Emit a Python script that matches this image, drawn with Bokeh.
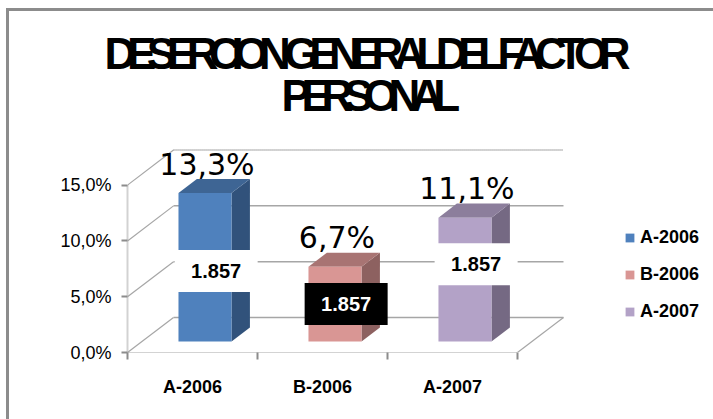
from bokeh.plotting import figure
from bokeh.layouts import column
from bokeh.embed import file_html
from bokeh.resources import INLINE
from bokeh.core.properties import value
from bokeh.models import LinearAxis, FixedTicker, Legend, LegendItem, Range1d, Label

categories = ["A-2006", "B-2006", "A-2007"]
percent = [13.3, 6.7, 11.1]
percent_labels = ["13,3%", "6,7%", "11,1%"]
box_texts = ["1.857", "1.857", "1.857"]
box_heights = [7.3, 4.35, 7.9]
y_ticks = [0, 5, 10, 15]
y_tick_labels = ["0,0%", "5,0%", "10,0%", "15,0%"]
title_lines = ["DESERCION GENERAL DEL FACTOR", "PERSONAL"]

front_colors = ["#4F81BD", "#D99694", "#B3A2C7"]
top_colors = ["#3E6594", "#A87473", "#8C7E9C"]
side_colors = ["#31527B", "#8D6160", "#756983"]
box_fill = ["white", "black", "white"]
box_ink = ["black", "white", "black"]

DX, DY = 0.354, 3.14        # wall depth, in x and y data units
NEAR, FAR = 0.314, 0.714    # bar depth, as a share of the wall depth
HALF = 0.204                # half a bar width
BAR_SHIFT = -0.015          # small sideways nudge of the bars
GREY = "#a6a6a6"
SANS = "Liberation Sans"

# title strip, with the squeezed lettering of the reference
head = figure(width=704, height=134, output_backend="svg", toolbar_location=None,
              x_axis_type=None, y_axis_type=None,
              x_range=Range1d(0, 1), y_range=Range1d(0, 1),
              min_border=0, outline_line_color=None, frame_align=False,
              styles={"letter-spacing": "-9.4px"})
head.grid.visible = False
for line, sx, sy in zip(title_lines, [95, 272], [68, 26]):
    head.add_layout(Label(x=sx, y=sy, x_units="screen", y_units="screen", text=line,
                          text_font=SANS, text_font_style="bold",
                          text_font_size="44px", text_color="black"))

p = figure(width=704, height=274, output_backend="svg", toolbar_location=None,
           x_axis_type=None, y_axis_type=None,
           x_range=Range1d(0, 4.508), y_range=Range1d(0, 18.55),
           min_border_left=118, min_border_right=0, min_border_top=0,
           min_border_bottom=67, outline_line_color=None, frame_align=False)
p.grid.visible = False

# real axes
yaxis = LinearAxis(ticker=FixedTicker(ticks=y_ticks), bounds=(0, 15),
                   major_label_overrides=dict(zip(y_ticks, y_tick_labels)))
yaxis.axis_line_color = GREY
yaxis.axis_line_dash = "1 1"
yaxis.axis_line_width = 2
yaxis.major_tick_line_color = "#8c8c8c"
yaxis.major_tick_line_width = 2
yaxis.major_tick_out = 6
yaxis.major_tick_in = 0
yaxis.minor_tick_out = 0
yaxis.major_label_text_font = SANS
yaxis.major_label_text_font_size = "18px"
yaxis.major_label_text_color = "black"
yaxis.major_label_standoff = 10
p.add_layout(yaxis, "left")

centres = [i + 0.5 for i in range(len(categories))]
edges = list(range(len(categories) + 1))
xaxis = LinearAxis(ticker=FixedTicker(ticks=centres, minor_ticks=edges),
                   bounds=(0, 3),
                   major_label_overrides=dict(zip(centres, categories)))
xaxis.axis_line_color = GREY
xaxis.axis_line_dash = "1 1"
xaxis.major_tick_out = 0
xaxis.major_tick_in = 0
xaxis.minor_tick_line_color = "#8c8c8c"
xaxis.minor_tick_line_width = 2
xaxis.minor_tick_out = 7
xaxis.minor_tick_in = 0
xaxis.major_label_text_font = SANS
xaxis.major_label_text_font_style = "bold"
xaxis.major_label_text_font_size = "18px"
xaxis.major_label_text_color = "black"
xaxis.major_label_standoff = 17
p.add_layout(xaxis, "below")

# walls
for t in y_ticks:
    p.line([0, DX], [t, t + DY], line_color=GREY, line_width=1.2)
    p.line([DX, 3 + DX], [t + DY, t + DY], line_color=GREY,
           line_width=1.5 if t < 15 else 2, line_dash="solid" if t < 15 else "1 1")
p.line([3, 3 + DX], [0, DY], line_color=GREY, line_width=1.2)

# bars
legend_items = []
for i, cat in enumerate(categories):
    v = percent[i]
    xl = centres[i] + NEAR * DX - HALF + BAR_SHIFT
    xr = centres[i] + NEAR * DX + HALF + BAR_SHIFT
    y0, ytop = NEAR * DY, v + NEAR * DY
    sx, sy = (FAR - NEAR) * DX, (FAR - NEAR) * DY
    p.patch([xr, xr + sx, xr + sx, xr], [y0, y0 + sy, ytop + sy, ytop],
            fill_color=side_colors[i], line_color=None)
    p.patch([xl, xr, xr + sx, xl + sx], [ytop, ytop, ytop + sy, ytop + sy],
            fill_color=top_colors[i], line_color=None)
    front = p.quad(left=xl, right=xr, bottom=y0, top=ytop,
                   fill_color=front_colors[i], line_color=None)
    legend_items.append(LegendItem(label=cat, renderers=[front]))

# label boxes and value labels
bar_mid = [c + (NEAR + FAR) / 2 * DX for c in centres]
p.rect(x=bar_mid, y=box_heights, width=83, height=42, width_units="screen",
       height_units="screen", fill_color=box_fill, line_color=None)
p.text(x=bar_mid, y=box_heights, text=box_texts, text_color=box_ink,
       text_font=value(SANS), text_font_style="bold", text_font_size="20px",
       text_align="center", text_baseline="middle")
p.text(x=[c + NEAR * DX for c in centres],
       y=[v + FAR * DY for v in percent], text=percent_labels,
       text_color="black", text_font=value("DejaVu Sans"), text_font_size="30px",
       text_align="center", text_baseline="alphabetic", y_offset=-15)

# legend
legend = Legend(items=legend_items, location=(497, 30),
                border_line_color=None, background_fill_alpha=0,
                glyph_width=11, glyph_height=11, spacing=16, padding=0, margin=0,
                label_standoff=5, label_text_font=SANS,
                label_text_font_style="bold", label_text_font_size="18px",
                label_text_color="black")
p.add_layout(legend, "center")

# chart frame: only its left and top edges show
page = column(head, p, spacing=0, margin=(8, 0, 0, 6),
              styles={"border-left": "3px solid #8c8c8c",
                      "border-top": "3px solid #8c8c8c"})

open("out.html", "w").write(file_html(page, INLINE))
